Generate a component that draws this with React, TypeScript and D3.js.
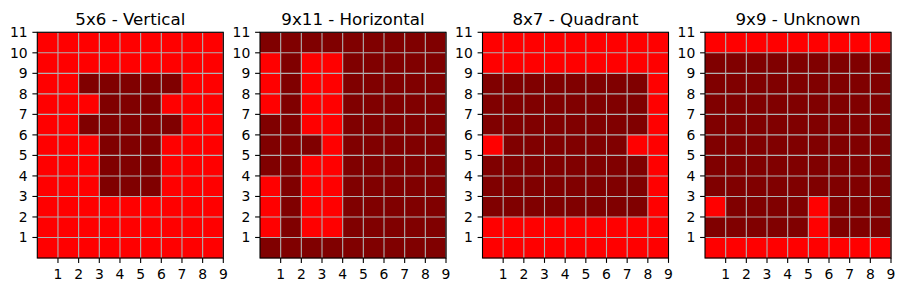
import React from "react";
import * as d3 from "d3";

// each grid: rows listed from top (y = 10) to bottom (y = 0); "#" = dark cell, "." = red cell
const titles = ["5x6 - Vertical", "9x11 - Horizontal", "8x7 - Quadrant", "9x9 - Unknown"];

const gridVertical = [
  ".........",
  ".........",
  "..#####..",
  "...###...",
  "..#####..",
  "...###...",
  "...###...",
  "...###...",
  ".........",
  ".........",
  ".........",
];

const gridHorizontal = [
  "#########",
  ".#..#####",
  ".#..#####",
  ".#..#####",
  "##..#####",
  "###.#####",
  "##..#####",
  ".#..#####",
  ".#..#####",
  ".#..#####",
  "#########",
];

const gridQuadrant = [
  ".........",
  ".........",
  "########.",
  "########.",
  "########.",
  ".######..",
  "########.",
  "########.",
  "########.",
  ".........",
  ".........",
];

const gridUnknown = [
  ".........",
  "#########",
  "#########",
  "#########",
  "#########",
  "#########",
  "#########",
  "#########",
  ".####.###",
  "#####.###",
  ".........",
];

const grids = [gridVertical, gridHorizontal, gridQuadrant, gridUnknown];
const xTicks = [1, 2, 3, 4, 5, 6, 7, 8, 9];
const yTicks = [1, 2, 3, 4, 5, 6, 7, 8, 9, 10, 11];

const W = 904;
const H = 292;
const panelLefts = [37.3, 260, 482.5, 705];
const panelWidth = 186;
const top = 32.3;
const bottom = 258;
const font = "DejaVu Sans, sans-serif";

const color = d3.scaleOrdinal<string, string>().domain([".", "#"]).range(["#ff0000", "#800000"]);

function Panel({ grid, title, left }: { grid: string[]; title: string; left: number }) {
  const nRows = grid.length;
  const nCols = grid[0].length;
  const x = d3.scaleLinear().domain([0, nCols]).range([left, left + panelWidth]);
  const y = d3.scaleLinear().domain([0, nRows]).range([bottom, top]);

  const cells: { r: number; c: number; v: string }[] = [];
  grid.forEach((row, i) => {
    const r = nRows - 1 - i;
    row.split("").forEach((v, c) => cells.push({ r, c, v }));
  });

  return (
    <g>
      {cells.map((d, i) => (
        <rect
          key={i}
          x={x(d.c)}
          y={y(d.r + 1)}
          width={x(d.c + 1) - x(d.c) + 0.3}
          height={y(d.r) - y(d.r + 1) + 0.3}
          fill={color(d.v)}
        />
      ))}
      {xTicks.map((t) => (
        <line key={"gx" + t} x1={x(t)} x2={x(t)} y1={top} y2={bottom} stroke="#b0b0b0" strokeWidth={1.1} />
      ))}
      {yTicks.map((t) => (
        <line key={"gy" + t} x1={left} x2={left + panelWidth} y1={y(t)} y2={y(t)} stroke="#b0b0b0" strokeWidth={1.1} />
      ))}
      <rect x={left} y={top} width={panelWidth} height={bottom - top} fill="none" stroke="#000" strokeWidth={1.1} />
      {xTicks.map((t) => (
        <g key={"tx" + t}>
          <line x1={x(t)} x2={x(t)} y1={bottom} y2={bottom + 4.9} stroke="#000" strokeWidth={1.1} />
          <text x={x(t)} y={279} textAnchor="middle" fontSize={13.9} fontFamily={font} fill="#000">
            {t}
          </text>
        </g>
      ))}
      {yTicks.map((t) => (
        <g key={"ty" + t}>
          <line x1={left - 4.9} x2={left} y1={y(t)} y2={y(t)} stroke="#000" strokeWidth={1.1} />
          <text
            x={left - 9.7}
            y={y(t)}
            dy="0.36em"
            textAnchor="end"
            fontSize={13.9}
            fontFamily={font}
            fill="#000"
          >
            {t}
          </text>
        </g>
      ))}
      <text x={left + panelWidth / 2} y={24.5} textAnchor="middle" fontSize={16.67} fontFamily={font} fill="#000">
        {title}
      </text>
    </g>
  );
}

export default function App() {
  return (
    <div style={{ position: "absolute", left: 0, top: 0 }}>
      <svg width={W} height={H} style={{ display: "block", background: "#fff" }}>
        {grids.map((g, i) => (
          <Panel key={i} grid={g} title={titles[i]} left={panelLefts[i]} />
        ))}
      </svg>
    </div>
  );
}
